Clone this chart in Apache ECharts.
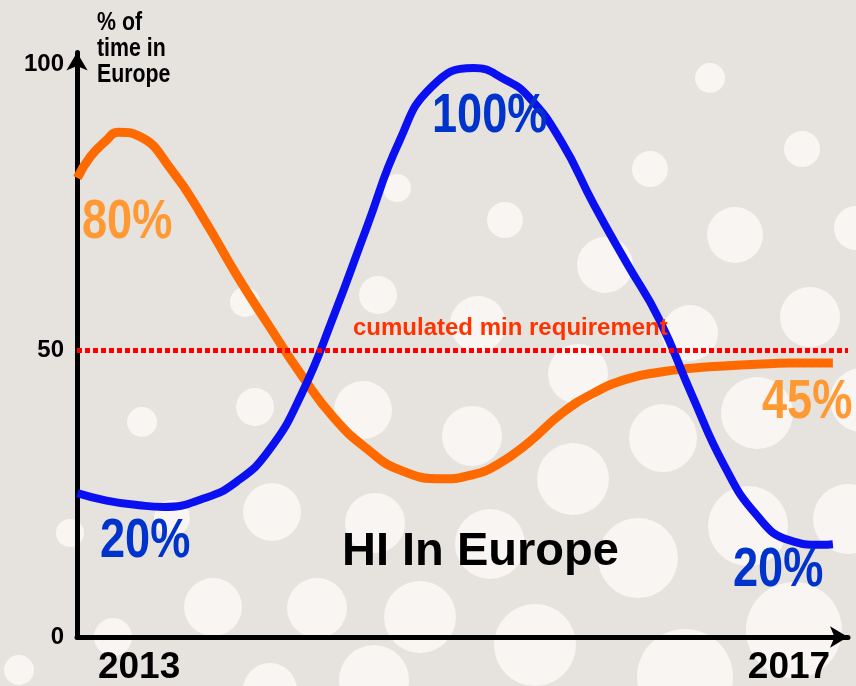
<!DOCTYPE html>
<html>
<head>
<meta charset="utf-8">
<script src="https://cdn.jsdelivr.net/npm/echarts@6/dist/echarts.min.js"></script>
<style>
html,body{margin:0;padding:0;background:#e6e2de;}
#chart{width:856px;height:686px;}
</style>
</head>
<body>
<div id="chart"></div>
<script>
// ---- data (years on x, % of time in Europe on y) ----
const blueYears = [2012.62,2012.8,2013.0,2013.15,2013.4,2013.6,2013.8,2014.0,2014.2,2014.4,2014.6,2014.8,2015.06,2015.25,2015.4,2015.6,2015.8,2016.0,2016.2,2016.4,2016.6,2016.8,2017.0,2017.2,2017.27];
const blueValues = [25.1,23.8,23.0,22.7,24.2,27.1,32.6,42.4,56.2,71.4,86.4,96.0,99.3,97.3,94.2,86.4,75.4,65.3,55.5,42.4,30.0,21.3,16.9,16.1,16.2];
const orangeYears = [2012.62,2012.7,2012.8,2012.87,2013.0,2013.2,2013.4,2013.6,2013.8,2014.0,2014.2,2014.4,2014.6,2014.87,2015.05,2015.2,2015.4,2015.6,2015.8,2016.0,2016.2,2016.4,2016.6,2016.8,2017.0,2017.27];
const orangeValues = [80.1,83.8,86.7,88.1,87.4,81.5,72.9,63.2,54.3,45.7,38.2,32.9,29.2,27.6,28.3,30.0,34.0,39.0,42.6,45.0,46.2,46.9,47.3,47.6,47.8,47.8];
const requirementValue = 50;
const requirementLabel = 'cumulated min requirement';
const xTickLabels = [2013, 2017];
const yTickLabels = [0, 50, 100];
const yAxisTitle = '% of\ntime in\nEurope';
const chartTitle = 'HI In Europe';
const annotations = ['80%', '100%', '45%', '20%', '20%'];

// ---- decoration (background bubbles) ----
const bubbles = [
  [245,302,15],[378,295,19],[397,188,14],[255,407,19],[142,422,15],[363,410,29],
  [272,512,29],[375,523,30],[172,518,18],[70,533,14],
  [710,78,15],[802,149,18],[650,169,18],[505,220,18],[735,235,28],[856,228,22],
  [605,265,28],[478,324,28],[690,333,28],[810,317,30],[578,374,30],[757,413,36],
  [862,400,32],[472,436,30],[663,438,34],[573,479,36],[748,526,40],[848,519,35],
  [490,544,35],[638,558,40],[113,637,19],[213,607,29],[317,608,30],[420,617,36],
  [535,645,41],[685,677,48],[794,630,48],[19,670,15],[270,690,27],[374,680,35]
];

const sans = '"Liberation Sans",Arial,sans-serif';

const zip = (xs, ys) => xs.map((x, i) => [x, ys[i]]);

const graphics = bubbles.map(b => ({
  type: 'circle', z: -1, silent: true,
  shape: { cx: b[0], cy: b[1], r: b[2] },
  style: { fill: '#f8f5f3' }
}));

// narrow-looking bold text: Liberation Sans Bold squeezed horizontally
function txt(text, x, y, color, size, sx) {
  return {
    type: 'text', z: 100, x: x, y: y, silent: true,
    scaleX: sx, scaleY: 1,
    style: {
      text: text, fill: color, font: 'bold ' + size + 'px ' + sans,
      textAlign: 'left', textVerticalAlign: 'middle'
    }
  };
}
graphics.push(txt(annotations[0], 82, 223, '#ff9933', 55, 0.82));
graphics.push(txt(annotations[1], 432, 117, '#0033cc', 55, 0.82));
graphics.push(txt(annotations[2], 762, 403, '#ff9933', 55, 0.82));
graphics.push(txt(annotations[3], 100, 542, '#0033cc', 55, 0.82));
graphics.push(txt(annotations[4], 733, 571, '#0033cc', 55, 0.82));
graphics.push(txt(chartTitle, 342, 552, '#000000', 47, 1));
graphics.push(txt(requirementLabel, 353, 328, '#ff3300', 24, 1));
graphics.push({
  type: 'text', z: 100, x: 97, y: 10, silent: true, scaleX: 0.82,
  style: { text: yAxisTitle, fill: '#000', font: 'bold 26px ' + sans, lineHeight: 26, textVerticalAlign: 'top' }
});

const chart = echarts.init(document.getElementById('chart'));
chart.setOption({
  backgroundColor: '#e6e2de',
  animation: false,
  grid: { left: 77, right: 8, top: 52.5, bottom: 49, containLabel: false },
  xAxis: {
    type: 'value', min: 2012.618, max: 2017.363,
    splitLine: { show: false },
    axisTick: { show: false },
    axisLine: { show: true, lineStyle: { color: '#000', width: 5 }, symbol: ['none', 'arrow'], symbolSize: [16, 18] },
    axisLabel: {
      customValues: xTickLabels, color: '#000', fontWeight: 'bold', fontSize: 37, fontFamily: sans,
      margin: 12, formatter: v => String(Math.round(v))
    }
  },
  yAxis: {
    type: 'value', min: 0, max: 102,
    splitLine: { show: false },
    axisTick: { show: false },
    axisLine: { show: true, lineStyle: { color: '#000', width: 5 }, symbol: ['none', 'arrow'], symbolSize: [16, 18] },
    axisLabel: {
      customValues: yTickLabels, color: '#000', fontWeight: 'bold', fontSize: 24, fontFamily: sans,
      margin: 13, formatter: v => String(Math.round(v))
    }
  },
  series: [
    {
      type: 'line', name: 'orange', data: zip(orangeYears, orangeValues), smooth: 0.5,
      showSymbol: false, z: 3,
      lineStyle: { color: '#ff6a00', width: 9, cap: 'butt' }
    },
    {
      type: 'line', name: 'blue', data: zip(blueYears, blueValues), smooth: 0.5,
      showSymbol: false, z: 4,
      lineStyle: { color: '#0a10f0', width: 8, cap: 'butt' }
    },
    {
      type: 'line', name: 'requirement', data: [], z: 5,
      markLine: {
        silent: true, symbol: ['none', 'none'], animation: false,
        label: { show: false },
        lineStyle: { color: '#ff0000', width: 5, type: [5, 3] },
        data: [{ yAxis: requirementValue }]
      }
    }
  ],
  graphic: graphics
});
</script>
</body>
</html>
